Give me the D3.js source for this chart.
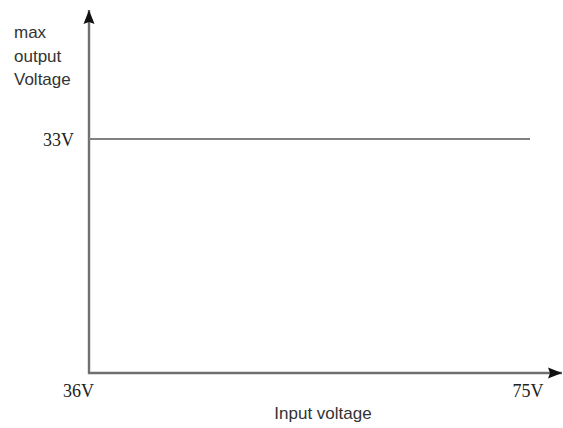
<!DOCTYPE html>
<html>
<head>
<meta charset="utf-8">
<script src="https://cdn.jsdelivr.net/npm/d3@7"></script>
<style>
  body { margin: 0; background: #fff; }
</style>
</head>
<body>
<div id="chart"></div>
<script>
// data
var inputVoltage = [36, 75];
var maxOutput = [33, 33];
var xTicks = [36, 75];
var xTickLabels = ["36V", "75V"];
var yTicks = [33];
var yTickLabels = ["33V"];

var width = 563, height = 428;
var originX = 89, originY = 373;

var svg = d3.select("#chart")
  .append("svg")
    .attr("width", width)
    .attr("height", height);

var x = d3.scaleLinear()
    .domain([36, 75])
    .range([originX, 530]);

var y = d3.scaleLinear()
    .domain([0, 33])
    .range([originY, 139]);

// arrow marker
svg.append("defs").append("marker")
    .attr("id", "arrow")
    .attr("viewBox", "0 0 14 12")
    .attr("refX", 14)
    .attr("refY", 6)
    .attr("markerWidth", 14)
    .attr("markerHeight", 12)
    .attr("markerUnits", "userSpaceOnUse")
    .attr("orient", "auto")
  .append("path")
    .attr("d", "M0,0.5 L14,6 L0,11.5 L2,6 z")
    .attr("fill", "#111");

// axes
svg.append("line")
    .attr("x1", originX).attr("y1", originY + 1)
    .attr("x2", originX).attr("y2", 10)
    .attr("stroke", "#707070")
    .attr("stroke-width", 2.4)
    .attr("marker-end", "url(#arrow)");

svg.append("line")
    .attr("x1", originX - 1).attr("y1", originY)
    .attr("x2", 562).attr("y2", originY)
    .attr("stroke", "#707070")
    .attr("stroke-width", 2.4)
    .attr("marker-end", "url(#arrow)");

// the line
var line = d3.line()
    .x(function(d, i) { return x(inputVoltage[i]); })
    .y(function(d) { return y(d); });

svg.append("path")
    .datum(maxOutput)
    .attr("d", line)
    .attr("fill", "none")
    .attr("stroke", "#808080")
    .attr("stroke-width", 2);

// tick labels
svg.selectAll(".xlab")
  .data(xTicks)
  .enter()
  .append("text")
    .attr("x", function(d, i) { return x(d) + (i == 0 ? -10.5 : -2); })
    .attr("y", originY + 24)
    .attr("text-anchor", "middle")
    .style("font-family", "'Liberation Serif', 'DejaVu Serif', serif")
    .style("font-size", "18px")
    .attr("fill", "#222")
    .text(function(d, i) { return xTickLabels[i]; });

svg.selectAll(".ylab")
  .data(yTicks)
  .enter()
  .append("text")
    .attr("x", originX - 15)
    .attr("y", function(d) { return y(d) + 6.5; })
    .attr("text-anchor", "end")
    .style("font-family", "'Liberation Serif', 'DejaVu Serif', serif")
    .style("font-size", "18px")
    .attr("fill", "#222")
    .text(function(d, i) { return yTickLabels[i]; });

// axis titles
var yTitle = ["max", "output", "Voltage"];
svg.append("g")
  .selectAll("text")
  .data(yTitle)
  .enter()
  .append("text")
    .attr("x", 14)
    .attr("y", function(d, i) { return 38 + i * 23.5; })
    .style("font-family", "'Liberation Sans', Arial, sans-serif")
    .style("font-size", "17px")
    .attr("fill", "#333")
    .text(function(d) { return d; });

svg.append("text")
    .attr("x", 323)
    .attr("y", 419)
    .attr("text-anchor", "middle")
    .style("font-family", "'Liberation Sans', Arial, sans-serif")
    .style("font-size", "17px")
    .attr("fill", "#333")
    .text("Input voltage");
</script>
</body>
</html>
